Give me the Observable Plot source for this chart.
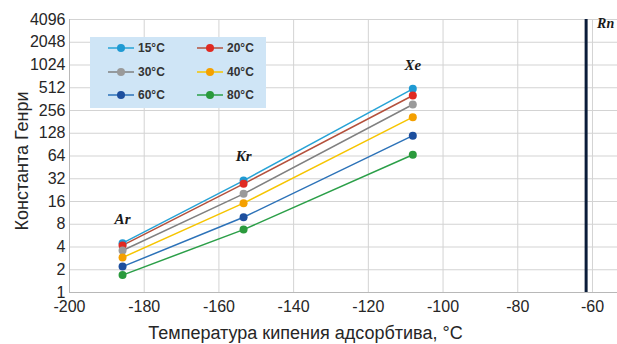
<!DOCTYPE html>
<html><head><meta charset="utf-8">
<script src="https://cdn.jsdelivr.net/npm/d3@7"></script>
<script src="https://cdn.jsdelivr.net/npm/@observablehq/plot@0.6"></script>
<style>
body{margin:0;background:#fff;font-family:"Liberation Sans",Arial,sans-serif;}
#wrap{position:relative;width:617px;height:344px;}
#legend{position:absolute;left:90px;top:37px;width:176px;height:71px;background:#cfe5f6;}
.item{position:absolute;display:flex;align-items:center;font-weight:bold;font-size:12px;color:#333;height:16px;}
.item svg{margin-right:4px;}
</style></head><body><div id="wrap"></div>
<script>
// Data
const temperatures = ["15°C", "20°C", "30°C", "40°C", "60°C", "80°C"];
const gases = ["Ar", "Kr", "Xe"];
const boilingPoints = [-185.8, -153.4, -108.1];
const rnLabel = "Rn";
const rnBoilingPoint = -61.7;
const k15 = [4.5, 30.3, 496];
const k20 = [4.2, 27.4, 404];
const k30 = [3.6, 20.2, 307];
const k40 = [2.9, 15.2, 209];
const k60 = [2.2, 9.9, 119];
const k80 = [1.7, 6.8, 66.5];
const xTicks = [-200, -180, -160, -140, -120, -100, -80, -60];
const yTicks = [1, 2, 4, 8, 16, 32, 64, 128, 256, 512, 1024, 2048, 4096];
const xTitle = "Температура кипения адсорбтива, °C";
const yTitle = "Константа Генри";

// Styles
const lineColors = ["#27a3d6", "#b4503c", "#808080", "#f6c500", "#2c72b8", "#2b9f48"];
const dotColors  = ["#1f9ad3", "#e02a22", "#9a9a9a", "#f4a000", "#1d4f9e", "#2a9a3c"];

const series = [k15, k20, k30, k40, k60, k80];
const rows = [];
temperatures.forEach((t, i) => {
  gases.forEach((g, j) => rows.push({temp: t, gas: g, bp: boilingPoints[j], value: series[i][j]}));
});
const labelRows = gases.map((g, j) => ({gas: g, bp: boilingPoints[j], value: k15[j]}));

const marks = [
  Plot.gridX(xTicks, {stroke: "#d3d3d3", strokeOpacity: 1}),
  Plot.gridY(yTicks, {stroke: "#d3d3d3", strokeOpacity: 1}),
  Plot.ruleX([xTicks[0]], {stroke: "#b8b8b8"}),
  Plot.ruleY([yTicks[0]], {stroke: "#b8b8b8"}),
  Plot.axisX(xTicks, {tickSize: 0, tickPadding: 8, label: null, fontSize: 16, tickFormat: d => String(d)}),
  Plot.axisY(yTicks, {tickSize: 0, tickPadding: 4, label: null, fontSize: 16, tickFormat: d => String(d)}),
  Plot.ruleX([rnBoilingPoint], {stroke: "#0b1d3a", strokeWidth: 3}),
];
temperatures.forEach((t, i) => {
  const d = rows.filter(r => r.temp === t);
  marks.push(Plot.line(d, {x: "bp", y: "value", stroke: lineColors[i], strokeWidth: 1.5}));
});
temperatures.forEach((t, i) => {
  const d = rows.filter(r => r.temp === t);
  marks.push(Plot.dot(d, {x: "bp", y: "value", r: 4, fill: dotColors[i], stroke: "none"}));
});
marks.push(
  Plot.text(labelRows, {x: "bp", y: "value", text: "gas", dy: -24, fontFamily: "Liberation Serif, serif", fontWeight: "bold", fontStyle: "italic", fontSize: 15, fill: "#1a1a1a"}),
  Plot.text([rnLabel], {x: rnBoilingPoint, y: yTicks[yTicks.length - 1], text: d => d, dx: 11, dy: 4, textAnchor: "start", fontFamily: "Liberation Serif, serif", fontWeight: "bold", fontStyle: "italic", fontSize: 14, fill: "#1a1a1a"}),
  Plot.text([xTitle], {frameAnchor: "bottom", text: d => d, dy: 41, dx: -38, textAnchor: "middle", lineAnchor: "middle", fontSize: 18, fill: "#262626"}),
  Plot.text([yTitle], {frameAnchor: "left", text: d => d, dx: -47, dy: 5, rotate: -90, textAnchor: "middle", lineAnchor: "middle", fontSize: 18, fill: "#262626"})
);

const chart = Plot.plot({
  width: 617, height: 344,
  marginLeft: 69, marginRight: 0, marginTop: 19, marginBottom: 52,
  style: {fontFamily: "Liberation Sans, Arial, sans-serif", fontSize: "16px", color: "#262626", background: "white"},
  x: {domain: [-200, -53.3]},
  y: {type: "log", base: 2, domain: [1, 4096]},
  marks
});
const wrap = document.getElementById("wrap");
wrap.appendChild(chart);

// Legend
const legend = document.createElement("div");
legend.id = "legend";
const colX = [18, 107];
const rowY = [3, 27, 50];
temperatures.forEach((t, i) => {
  const item = document.createElement("div");
  item.className = "item";
  item.style.left = colX[i % 2] + "px";
  item.style.top = rowY[Math.floor(i / 2)] + "px";
  item.innerHTML = `<svg width="26" height="10"><line x1="0" y1="5" x2="26" y2="5" stroke="${lineColors[i]}" stroke-width="1.5"/><circle cx="13" cy="5" r="4" fill="${dotColors[i]}"/></svg><span>${t}</span>`;
  legend.appendChild(item);
});
wrap.appendChild(legend);
</script>
</body></html>
